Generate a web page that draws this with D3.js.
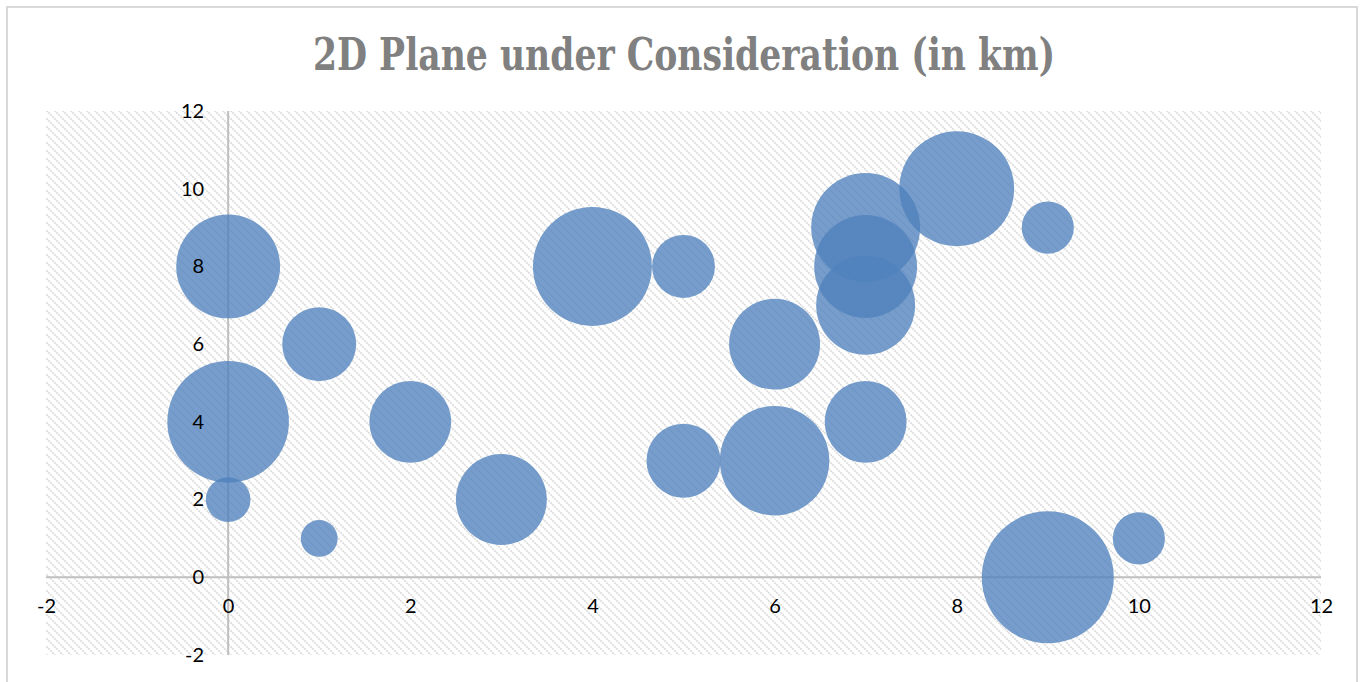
<!DOCTYPE html>
<html>
<head>
<meta charset="utf-8">
<script src="https://cdn.jsdelivr.net/npm/d3@7"></script>
<style>
  html, body { margin: 0; padding: 0; background: #fff; }
  svg { display: block; }
</style>
</head>
<body>
<svg id="chart" width="1364" height="682"></svg>
<script>
// Site positions on the plane (km) and their bubble sizes
const xValues = [0, 1, 0, 0, 1, 2, 3, 4, 5, 5, 6, 6, 7, 7, 7, 7, 8, 9, 9, 10];
const yValues = [8, 6, 4, 2, 1, 4, 2, 8, 8, 3, 6, 3, 4, 9, 8, 7, 10, 9, 0, 1];
const sizes   = [27, 13.7, 37, 5, 3.4, 16.8, 20.7, 35.4, 9.9, 13.7, 20.7, 30, 16.8, 29.7, 26.5, 24.5, 33, 6.8, 43.6, 6.8];

const xTicks = [-2, 0, 2, 4, 6, 8, 10, 12];
const yTicks = [-2, 0, 2, 4, 6, 8, 10, 12];
const titleText = "2D Plane under Consideration (in km)";

const svg = d3.select("#chart");
const W = 1364, H = 682;
const plot = { left: 46, right: 1321, top: 111, bottom: 655 };

// outer chart border
svg.append("rect")
  .attr("x", 7).attr("y", 7)
  .attr("width", 1350).attr("height", 700)
  .attr("fill", "#fff")
  .attr("stroke", "#d9d9d9").attr("stroke-width", 2);

// diagonal hatch for the plot area
const defs = svg.append("defs");
const pat = defs.append("pattern")
  .attr("id", "hatch")
  .attr("patternUnits", "userSpaceOnUse")
  .attr("width", 8).attr("height", 8);
pat.append("rect").attr("width", 8).attr("height", 8).attr("fill", "#fff");
pat.append("path")
  .attr("d", "M-2,-2 L10,10 M-2,6 L2,10 M6,-2 L10,2")
  .attr("stroke", "#dcdcdc").attr("stroke-width", 1.7)
  .attr("stroke-dasharray", "2,1");

const x = d3.scaleLinear().domain([-2, 12]).range([plot.left, plot.right]);
const y = d3.scaleLinear().domain([-2, 12]).range([plot.bottom, plot.top]);
const r = d3.scaleSqrt().domain([0, d3.max(sizes)]).range([0, 66]);

svg.append("rect")
  .attr("x", plot.left).attr("y", plot.top)
  .attr("width", plot.right - plot.left).attr("height", plot.bottom - plot.top)
  .attr("fill", "url(#hatch)");

// axes through the origin
const axisColor = "#bfbfbf";
const fmt = d => String(d);
const xAxis = d3.axisBottom(x).tickValues(xTicks).tickFormat(fmt).tickSize(0).tickPadding(22);
const gx = svg.append("g").attr("transform", `translate(0,${y(0)})`).call(xAxis);
gx.select(".domain").attr("stroke", axisColor).attr("stroke-width", 2);

const yAxis = d3.axisLeft(y).tickValues(yTicks).tickFormat(fmt).tickSize(0).tickPadding(24);
const gy = svg.append("g").attr("transform", `translate(${x(0)},0)`).call(yAxis);
gy.select(".domain").attr("stroke", axisColor).attr("stroke-width", 2);

// bubbles
const points = xValues.map((v, i) => ({ x: v, y: yValues[i], s: sizes[i] }));
svg.append("g")
  .selectAll("circle")
  .data(points)
  .join("circle")
  .attr("cx", d => x(d.x))
  .attr("cy", d => y(d.y))
  .attr("r", d => r(d.s))
  .attr("fill", "#4f81bd")
  .attr("fill-opacity", 0.78);

// tick labels sit above the bubbles
gx.raise(); gy.raise();
gx.select(".domain").remove();
gy.select(".domain").remove();
svg.selectAll(".tick text")
  .attr("font-family", "Lato, 'Open Sans', sans-serif")
  .attr("font-size", 20)
  .attr("fill", "#000");

// axis lines drawn beneath the bubbles
svg.insert("line", "g")
  .attr("x1", plot.left).attr("x2", plot.right)
  .attr("y1", y(0)).attr("y2", y(0))
  .attr("stroke", axisColor).attr("stroke-width", 2);
svg.insert("line", "g")
  .attr("x1", x(0)).attr("x2", x(0))
  .attr("y1", plot.top).attr("y2", plot.bottom)
  .attr("stroke", axisColor).attr("stroke-width", 2);

// title
const title = svg.append("text")
  .attr("x", W / 2 + 2)
  .attr("y", 70)
  .attr("text-anchor", "middle")
  .attr("font-family", "'DejaVu Serif Condensed', 'DejaVu Serif', serif")
  .attr("font-weight", "bold")
  .attr("font-size", 44)
  .attr("fill", "#808080")
  .text(titleText);
title.attr("textLength", 742).attr("lengthAdjust", "spacingAndGlyphs");
</script>
</body>
</html>
